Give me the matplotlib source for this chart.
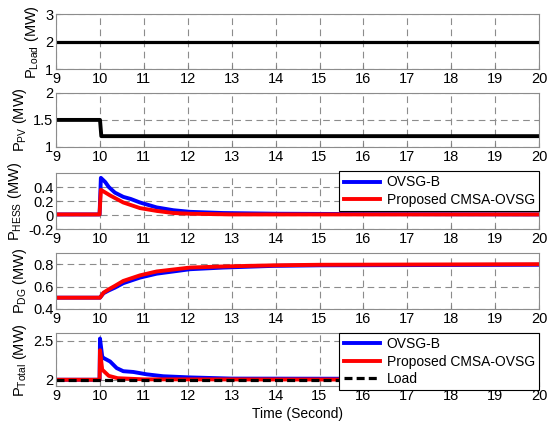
import numpy as np
import matplotlib.pyplot as plt

plt.rcParams['font.family'] = ['Liberation Sans', 'DejaVu Sans']
plt.rcParams['font.size'] = 10

# data
xticks = list(range(9, 21))

t_load = [9, 20]
p_load = [2.0, 2.0]

t_pv = [9, 10.0, 10.03, 20]
p_pv = [1.5, 1.5, 1.2, 1.2]

t_hess_b = [9, 9.99, 10.02, 10.12, 10.2, 10.34, 10.53, 10.7, 10.91, 11.29, 11.67, 12.05, 12.8, 14, 16, 20]
p_hess_b = [0.01, 0.01, 0.53, 0.47, 0.40, 0.32, 0.26, 0.23, 0.18, 0.11, 0.07, 0.047, 0.03, 0.02, 0.015, 0.01]
t_hess_r = [9, 9.99, 10.02, 10.23, 10.53, 10.91, 11.29, 11.67, 12.05, 13, 20]
p_hess_r = [0.01, 0.01, 0.36, 0.28, 0.18, 0.10, 0.06, 0.03, 0.02, 0.01, 0.01]

t_dg = [9, 10.0, 10.08, 10.2, 10.34, 10.53, 10.91, 11.29, 12.05, 12.81, 13.95, 15, 20]
p_dg_b = [0.50, 0.50, 0.54, 0.565, 0.59, 0.63, 0.68, 0.715, 0.755, 0.77, 0.785, 0.79, 0.795]
p_dg_r = [0.50, 0.50, 0.545, 0.575, 0.606, 0.65, 0.70, 0.735, 0.77, 0.78, 0.79, 0.795, 0.80]

t_tot_b = [9, 9.99, 10.0, 10.05, 10.08, 10.23, 10.38, 10.53, 10.76, 11.06, 11.44, 12.05, 13, 20]
p_tot_b = [2.0, 2.0, 2.53, 2.30, 2.28, 2.235, 2.15, 2.11, 2.10, 2.07, 2.045, 2.03, 2.015, 2.01]
t_tot_r = [9, 9.99, 10.0, 10.05, 10.2, 10.4, 11, 20]
p_tot_r = [2.0, 2.0, 2.38, 2.13, 2.05, 2.02, 2.005, 2.0]

fig = plt.figure(figsize=(5.5, 4.26), dpi=100)

rects = [
    [0.102, 0.838, 0.878, 0.129],
    [0.102, 0.655, 0.878, 0.127],
    [0.102, 0.462, 0.878, 0.132],
    [0.102, 0.275, 0.878, 0.131],
    [0.102, 0.094, 0.878, 0.124],
]
ylabels = [r'$\mathregular{P_{Load}}$ (MW)', r'$\mathregular{P_{PV}}$ (MW)',
           r'$\mathregular{P_{HESS}}$ (MW)', r'$\mathregular{P_{DG}}$ (MW)',
           r'$\mathregular{P_{Total}}$ (MW)']
ylims = [(1, 3), (1, 2), (-0.2, 0.6), (0.4, 0.9), (1.92, 2.6)]
yticks = [[1, 2, 3], [1, 1.5, 2], [-0.2, 0, 0.2, 0.4], [0.4, 0.6, 0.8], [2, 2.5]]
yticklabels = [['1', '2', '3'], ['1', '1.5', '2'], ['-0.2', '0', '0.2', '0.4'],
               ['0.4', '0.6', '0.8'], ['2', '2.5']]

axs = []
for i in range(5):
    ax = fig.add_axes(rects[i])
    ax.set_xlim(9, 20)
    ax.set_ylim(*ylims[i])
    ax.set_xticks(xticks)
    ax.set_yticks(yticks[i])
    ax.set_yticklabels(yticklabels[i])
    ax.grid(True, linestyle=(0, (6, 4)), color='0.55', linewidth=0.8)
    ax.tick_params(direction='in', length=3, color='0.5', pad=2, labelsize=10.5)
    for s in ax.spines.values():
        s.set_color('0.55')
    ax.set_ylabel(ylabels[i], labelpad=3, fontsize=10.5)
    axs.append(ax)

axs[0].plot(t_load, p_load, color='black', lw=2.3)
axs[1].plot(t_pv, p_pv, color='black', lw=2.8)

axs[2].plot(t_hess_b, p_hess_b, color='blue', lw=2.8, label='OVSG-B')
axs[2].plot(t_hess_r, p_hess_r, color='red', lw=2.8, label='Proposed CMSA-OVSG')
leg = axs[2].legend(loc='upper right', bbox_to_anchor=(1.0, 1.03), borderaxespad=0,
                    fancybox=False, framealpha=1, edgecolor='black', handlelength=2.6,
                    handletextpad=0.5, labelspacing=0.25, borderpad=0.3, fontsize=10)
leg.get_frame().set_linewidth(0.8)

axs[3].plot(t_dg, p_dg_b, color='blue', lw=2.8)
axs[3].plot(t_dg, p_dg_r, color='red', lw=2.8)

axs[4].plot(t_tot_b, p_tot_b, color='blue', lw=2.8, label='OVSG-B')
axs[4].plot(t_tot_r, p_tot_r, color='red', lw=2.8, label='Proposed CMSA-OVSG')
axs[4].plot(t_load, p_load, color='black', lw=2.3, linestyle=(0, (2.5, 1.3)), label='Load')
leg = axs[4].legend(loc='upper right', bbox_to_anchor=(1.0, 1.0), borderaxespad=0,
                    fancybox=False, framealpha=1, edgecolor='black', handlelength=2.6,
                    handletextpad=0.5, labelspacing=0.25, borderpad=0.3, fontsize=10)
leg.get_frame().set_linewidth(0.8)
axs[4].set_xlabel('Time (Second)', labelpad=3, fontsize=10)

fig.savefig('out.png', dpi=100)
